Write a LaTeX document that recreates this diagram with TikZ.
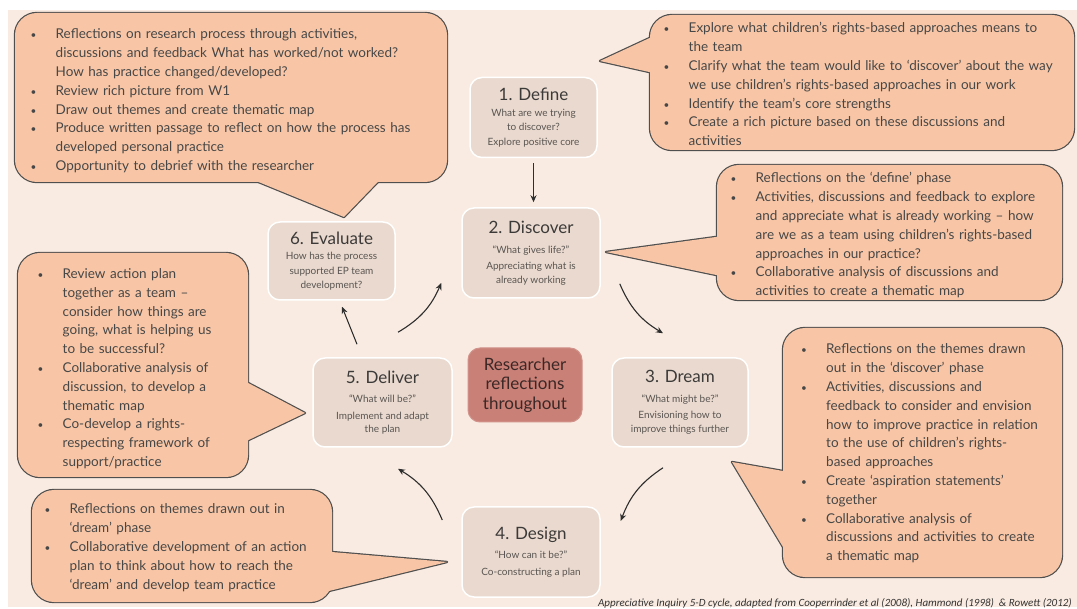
\documentclass[tikz,border=0pt]{standalone}
\usepackage{fontspec}
\setmainfont{Lato}
\newfontfamily\capfont{Carlito}
\usetikzlibrary{arrows.meta,calc}

\definecolor{bgpeach}{HTML}{F9EBE1}
\definecolor{stepfill}{HTML}{E9D9CE}
\definecolor{calfill}{HTML}{F8C6A6}
\definecolor{calline}{HTML}{4F4F4F}
\definecolor{hubfill}{HTML}{C98077}
\definecolor{hubtxt}{HTML}{3B2826}
\definecolor{txt}{HTML}{474747}
\definecolor{subtxt}{HTML}{5A5552}
\definecolor{titletxt}{HTML}{3C3A39}
\definecolor{arrowc}{HTML}{2E2E2E}

\newcommand\stepsubfont{\fontsize{10}{14.5}\selectfont}
\newcommand\steptitle[1]{{\fontsize{17}{19}\selectfont\color{titletxt}#1}}
\newcommand\calfont{\fontsize{13.5}{18.8}\selectfont}
% one bullet point with a hanging indent; \nl continues the same point
\newcommand\bul{\par\hangindent=25pt\hangafter=1\noindent\makebox[25pt][l]{\fontsize{10}{10}\selectfont\textbullet}}
\newcommand\nl{\newline}

% speech-bubble: rounded box plus a pointer triangle, outlined as one shape
% #1,#2 box corners; #3 pointer tip; #4,#5 pointer base points inside the box
\newcommand\bubble[5]{%
  \draw[calstroke, calrect] (#1) rectangle (#2);
  \draw[calstroke] (#4) -- (#3) -- (#5) -- cycle;
  \fill[calfill, calrect] (#1) rectangle (#2);
  \fill[calfill] (#4) -- (#3) -- (#5) -- cycle;}

\tikzset{
  stepbox/.style={draw=white, line width=1.5pt, fill=stepfill, rounded corners=12pt,
    align=center, inner sep=0pt, text=subtxt, font=\stepsubfont},
  hubbox/.style={fill=hubfill, draw=hubfill!85!white, line width=1pt, rounded corners=12pt,
    align=center, inner sep=0pt, text=hubtxt, font=\fontsize{17}{19.5}\selectfont},
  calrect/.style={rounded corners=22pt},
  calstroke/.style={draw=calline, line width=2.4pt, line join=round},
  caltext/.style={anchor=north west, inner sep=0pt, text=txt, text width=500pt,
    align=left, font=\calfont},
  arr/.style={draw=arrowc, line width=1.1pt, -{Stealth[length=7pt,width=6pt]}},
}

\begin{document}
\begin{tikzpicture}[x=1pt,y=-1pt]
\useasboundingbox (0,0) rectangle (1077,609);
\fill[white] (0,0) rectangle (1077,609);
\fill[bgpeach] (8,10) rectangle (1077,607);

% ---- speech bubbles ----
\bubble{15,13}{447,182}{344,217}{236.5,173}{386.5,173}
\bubble{650,15}{1074,150}{600,61}{662.5,32}{662.5,75}
\bubble{717,165}{1062,300}{606,252}{745,233}{745,281}
\bubble{18,253}{248,477}{305,413}{234,375.5}{234,447}
\bubble{783,328}{1062,577}{732,462}{800,474}{792,562}
\bubble{32,490}{332,602}{447,562}{303,549.5}{304.5,597}

% ---- bubble texts ----
\node[caltext] (tEvaluate) at (30.5,20) {%
\bul Reflections on research process through activities,\nl discussions and feedback What has worked/not worked?\nl How has practice changed/developed?
\bul Review rich picture from W1
\bul Draw out themes and create thematic map
\bul Produce written passage to reflect on how the process has\nl developed personal practice
\bul Opportunity to debrief with the researcher\par};

\node[caltext] (tDefine) at (663.5,14) {%
\bul Explore what children’s rights-based approaches means to\nl the team
\bul Clarify what the team would like to ‘discover’ about the way\nl we use children’s rights-based approaches in our work
\bul Identify the team’s core strengths
\bul Create a rich picture based on these discussions and\nl activities\par};

\node[caltext] (tDiscover) at (730.5,164) {%
\bul Reflections on the ‘define’ phase
\bul Activities, discussions and feedback to explore\nl and appreciate what is already working – how\nl are we as a team using children’s rights-based\nl approaches in our practice?
\bul Collaborative analysis of discussions and\nl activities to create a thematic map\par};

\node[caltext] (tDeliver) at (37.5,259.5) {%
\bul Review action plan\nl together as a team –\nl consider how things are\nl going, what is helping us\nl to be successful?
\bul Collaborative analysis of\nl discussion, to develop a\nl thematic map
\bul Co-develop a rights-\nl respecting framework of\nl support/practice\par};

\node[caltext] (tDream) at (801,335) {%
\bul Reflections on the themes drawn\nl out in the ‘discover’ phase
\bul Activities, discussions and\nl feedback to consider and envision\nl how to improve practice in relation\nl to the use of children’s rights-\nl based approaches
\bul Create ‘aspiration statements’\nl together
\bul Collaborative analysis of\nl discussions and activities to create\nl a thematic map\par};

\node[caltext] (tDesign) at (44.5,495) {%
\bul Reflections on themes drawn out in\nl ‘dream’ phase
\bul Collaborative development of an action\nl plan to think about how to reach the\nl ‘dream’ and develop team practice\par};

% ---- cycle steps ----
\node[stepbox, minimum width=127pt, minimum height=80pt] (define) at (533.5,117.5)
  {\steptitle{1. Define}\\[1pt] What are we trying\\to discover?\\Explore positive core};
\node[stepbox, minimum width=138pt, minimum height=90pt] (discover) at (531,253)
  {\steptitle{2. Discover}\\[5pt] “What gives life?”\\[2pt] Appreciating what is\\[-1pt]already working};
\node[stepbox, minimum width=136pt, minimum height=89pt] (dream) at (680,402.5)
  {\steptitle{3. Dream}\\[5pt] “What might be?”\\[2pt] Envisioning how to\\[-1pt]improve things further};
\node[stepbox, minimum width=138pt, minimum height=90pt] (design) at (531,552)
  {\steptitle{4. Design}\\[5pt] “How can it be?”\\[2pt] Co-constructing a plan};
\node[stepbox, minimum width=139pt, minimum height=89pt] (deliver) at (382.5,402.5)
  {\steptitle{5. Deliver}\\[5pt] “What will be?”\\[2pt] Implement and adapt\\[-1pt]the plan};
\node[stepbox, minimum width=127pt, minimum height=78pt] (evaluate) at (331.5,261)
  {\steptitle{6. Evaluate}\\[1pt] How has the process\\supported EP team\\development?};

\node[hubbox, minimum width=114pt, minimum height=74pt] (hub) at (525,385)
  {Researcher\\reflections\\throughout};

% ---- arrows round the cycle ----
\draw[arr, shorten <=5pt, shorten >=5pt] (define.south) -- (define.south |- discover.north);

\path (discover.south east) ++(19,-15) coordinate (a23s);
\path (dream.north) ++(-17,-24) coordinate (a23e);
\draw[arr] (a23s) to[bend right=18] (a23e);

\path (dream.south) ++(-17,20) coordinate (a34s);
\path (design.east) ++(20,-31) coordinate (a34e);
\draw[arr] (a34s) to[bend right=18] (a34e);

\path (design.west) ++(-19,-32) coordinate (a45s);
\path (deliver.south) ++(15.5,21) coordinate (a45e);
\draw[arr] (a45s) to[bend right=18] (a45e);

\path (deliver.north) ++(15.5,-25) coordinate (a52s);
\path (discover.west) ++(-20,30) coordinate (a52e);
\draw[arr] (a52s) to[bend right=18] (a52e);

\path (deliver.north) ++(-25.5,-13) coordinate (a56s);
\path (evaluate.south) ++(10.5,6) coordinate (a56e);
\draw[arr] (a56s) -- (a56e);

% ---- source line ----
\node[anchor=base east, inner sep=0pt, text=black!80, font=\capfont\itshape\fontsize{11}{13}\selectfont]
  (source) at (1072,606.5)
  {Appreciative Inquiry 5-D cycle, adapted from Cooperrinder et al (2008), Hammond (1998)\ \ \& Rowett (2012)};
\end{tikzpicture}
\end{document}
